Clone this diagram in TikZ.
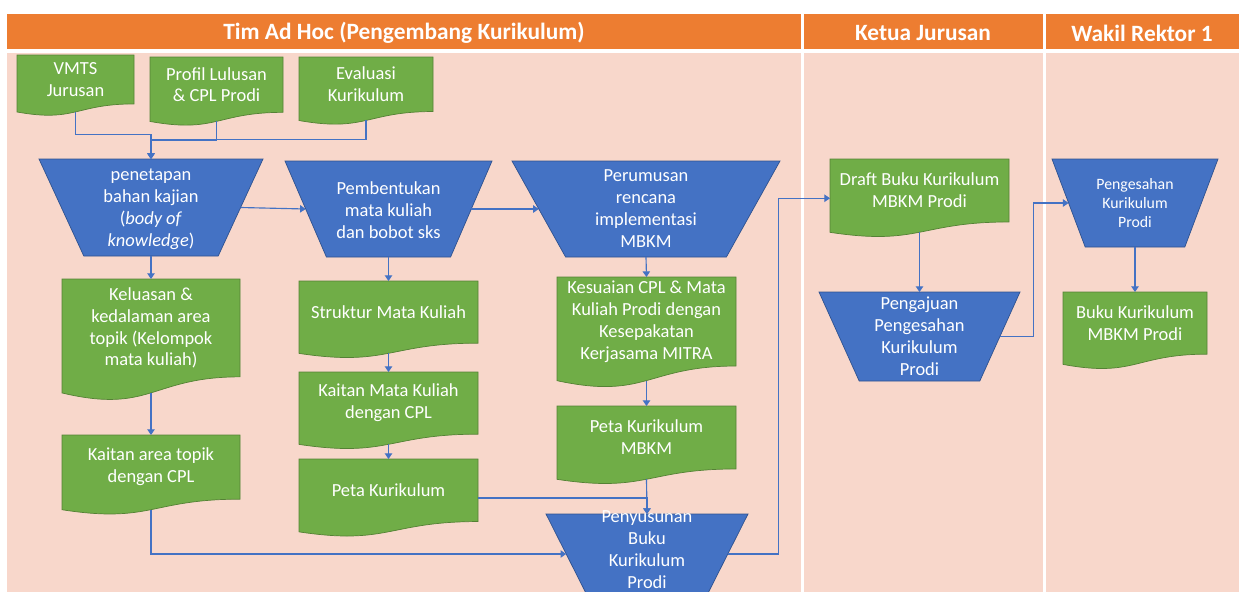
\documentclass[tikz,border=0pt]{standalone}
\usepackage{fontspec}
\setmainfont{Carlito}
\usetikzlibrary{arrows.meta,calc}
\definecolor{hdrorange}{HTML}{ED7D31}
\definecolor{lanepink}{HTML}{F8D7CB}
\definecolor{docgreen}{HTML}{70AD47}
\definecolor{docgreenb}{HTML}{548235}
\definecolor{trapblue}{HTML}{4472C4}
\definecolor{trapblueb}{HTML}{2F528F}
\definecolor{conblue}{HTML}{4472C4}
\tikzset{
  docfill/.style={fill=docgreen,draw=docgreenb,line width=0.4pt},
  trapfill/.style={fill=trapblue,draw=trapblueb,line width=0.4pt},
  shapebox/.style={draw=none,inner sep=0pt,outer sep=0pt,rectangle},
  txt/.style={text=white,align=center,inner sep=0pt,font=\fontsize{10.5}{12.5}\selectfont},
  smalltxt/.style={font=\fontsize{9}{10.8}\selectfont},
  hdr/.style={text=white,font=\bfseries\fontsize{13.3}{16}\selectfont,inner sep=0pt},
  arr/.style={draw=conblue,line width=0.65pt,-{Triangle[length=3.2pt,width=4.2pt]}},
}
% document shape: name, x1, top, x2, h, text
\newcommand{\gdoc}[6]{%
  \pgfmathsetmacro\gdA{#3+0.802*#5}%
  \pgfmathsetmacro\gdB{#3+1.1075*#5}%
  \pgfmathsetmacro\gdC{#3+0.934*#5}%
  \pgfmathsetmacro\gdM{(#2+#4)/2}%
  \pgfmathsetmacro\gdW{#4-#2}%
  \pgfmathsetmacro\gdH{0.933*#5}%
  \pgfmathsetmacro\gdT{#3+0.401*#5}%
  \pgfmathsetmacro\gdE{#3+0.5*#5}%
  \filldraw[docfill] (#2,#3) -- (#4,#3) -- (#4,\gdA) .. controls (\gdM,\gdA) and (\gdM,\gdB) .. (#2,\gdC) -- cycle;
  \node[shapebox,minimum width=\gdW*0.02cm,minimum height=\gdH*0.02cm,anchor=north west] (#1) at (#2,#3) {};
  \coordinate (#1-w) at (#2,\gdE);
  \coordinate (#1-e) at (#4,\gdE);
  \node[txt] (#1-t) at (\gdM,\gdT) {#6};
}
% manual operation trapezoid: name, x1, top, x2, h, text, extra text style, text y
\newcommand{\mtrap}[8]{%
  \pgfmathsetmacro\gdW{#4-#2}%
  \pgfmathsetmacro\gdA{#2+0.2*\gdW}%
  \pgfmathsetmacro\gdB{#4-0.2*\gdW}%
  \pgfmathsetmacro\gdC{#3+#5}%
  \pgfmathsetmacro\gdM{(#2+#4)/2}%
  \pgfmathsetmacro\gdE{#3+0.5*#5}%
  \pgfmathsetmacro\gdL{#2+0.1*\gdW}%
  \pgfmathsetmacro\gdR{#4-0.1*\gdW}%
  \filldraw[trapfill] (#2,#3) -- (#4,#3) -- (\gdB,\gdC) -- (\gdA,\gdC) -- cycle;
  \node[shapebox,minimum width=0.6*\gdW*0.02cm,minimum height=#5*0.02cm] (#1) at (\gdM,\gdE) {};
  \coordinate (#1-w) at (\gdL,\gdE);
  \coordinate (#1-e) at (\gdR,\gdE);
  \node[txt,#7] (#1-t) at (\gdM,#8) {#6};
}
\begin{document}
\begin{tikzpicture}[x=0.02cm,y=-0.02cm]
\useasboundingbox (0,0) rectangle (1242,592);
\clip (0,0) rectangle (1242,592);
\fill[white] (0,0) rectangle (1242,592);
% lanes
\fill[hdrorange] (7,14) rectangle (1239,49);
\fill[lanepink] (7,53) rectangle (1239,592);
\fill[white] (801,14) rectangle (803.5,592);
\fill[white] (1043,14) rectangle (1045.5,592);
\node[hdr] (h1) at (404,33) {Tim Ad Hoc (Pengembang Kurikulum)};
\node[hdr] (h2) at (923,33) {Ketua Jurusan};
\node[hdr] (h3) at (1142,33) {Wakil Rektor 1};

% documents
\gdoc{vmts}{17}{55}{134}{61}{VMTS\\Jurusan}
\gdoc{prof}{150}{57}{283}{69}{Profil Lulusan\\\& CPL Prodi}
\gdoc{eval}{299}{57}{433}{68}{Evaluasi\\Kurikulum}
\gdoc{kel}{62}{279}{240}{122}{Keluasan \&\\kedalaman area\\topik (Kelompok\\mata kuliah)}
\gdoc{kat}{62}{435}{240}{80}{Kaitan area topik\\dengan CPL}
\gdoc{str}{299}{281}{478}{77.5}{Struktur Mata Kuliah}
\gdoc{kmk}{299}{372}{478}{77.5}{Kaitan Mata Kuliah\\dengan CPL}
\gdoc{peta}{299}{459}{478}{78}{Peta Kurikulum}
\gdoc{kes}{557}{277}{736}{111}{Kesuaian CPL \& Mata\\Kuliah Prodi dengan\\Kesepakatan\\Kerjasama MITRA}
\gdoc{petam}{557}{406}{736}{78.5}{Peta Kurikulum\\MBKM}
\gdoc{drf}{830}{159}{1009}{78.5}{Draft Buku Kurikulum\\MBKM Prodi}
\gdoc{buku}{1063}{292}{1207}{77.5}{Buku Kurikulum\\MBKM Prodi}

% trapezoids
\mtrap{pen}{39}{159}{263}{97}{penetapan\\bahan kajian\\(\textit{body of}\\\textit{knowledge})}{}{209}
\mtrap{pem}{285}{161}{492}{96}{Pembentukan\\mata kuliah\\dan bobot sks}{}{210}
\mtrap{per}{512}{161}{780}{96}{Perumusan\\rencana\\implementasi\\MBKM}{}{209}
\mtrap{pny}{546}{514}{748}{80}{Penyusunan\\Buku\\Kurikulum\\Prodi}{}{550}
\mtrap{pgj}{819}{292}{1020}{89}{Pengajuan\\Pengesahan\\Kurikulum\\Prodi}{}{336}
\mtrap{pgs}{1052}{159}{1218}{88}{Pengesahan\\Kurikulum\\Prodi}{smalltxt}{203}

% connectors
\draw[arr] (vmts.south) -- ++(0,23) -| (pen.north);
\draw[arr] (prof.south) -- ++(0,19) -| (pen.north);
\draw[arr] (eval.south) -- ++(0,19) -| (pen.north);
\draw[arr] (pen.south) -- (kel.north);
\draw[arr] (kel.south) -- (kat.north);
\draw[arr] (kat.south) |- (pny-w);
\draw[arr] (pen-e) -- (pem-w);
\draw[arr] (pem-e) -- (per-w);
\draw[arr] (pem.south) -- (str.north);
\draw[arr] (str.south) -- (kmk.north);
\draw[arr] (kmk.south) -- (peta.north);
\draw[arr] (peta-e) -| (pny.north);
\draw[arr] (per.south) -- (kes.north);
\draw[arr] (kes.south) -- (petam.north);
\draw[arr] (petam.south) -- (pny.north);
\draw[arr] (pny-e) -- ++(51,0) |- (drf-w);
\draw[arr] (drf.south) -- (pgj.north);
\draw[arr] (pgj-e) -- ++(34,0) |- (pgs-w);
\draw[arr] (pgs.south) -- (buku.north);
\end{tikzpicture}
\end{document}
